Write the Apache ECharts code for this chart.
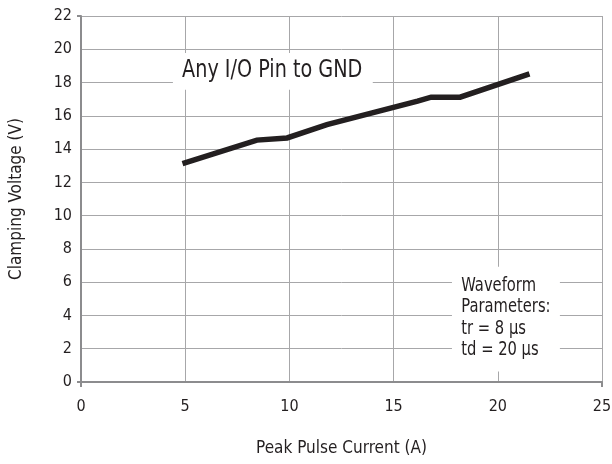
<!DOCTYPE html>
<html><head><meta charset="utf-8">
<script src="https://cdn.jsdelivr.net/npm/echarts@6/dist/echarts.min.js"></script>
<style>html,body{margin:0;padding:0;background:#fff}#c{width:612px;height:464px}</style>
</head><body><div id="c"></div><script>
// Data
const currentA = [4.87, 8.44, 9.89, 11.8, 16.15, 16.8, 18.19, 21.52];
const clampV   = [13.12, 14.54, 14.67, 15.47, 16.88, 17.12, 17.12, 18.52];
const xTicks = [0, 5, 10, 15, 20, 25];
const yTicks = [0, 2, 4, 6, 8, 10, 12, 14, 16, 18, 20, 22];
const xTitle = 'Peak Pulse Current (A)';
const yTitle = 'Clamping Voltage (V)';
const note1 = 'Any I/O Pin to GND';
const note2Lines = ['Waveform', 'Parameters:', 'tr = 8 μs', 'td = 20 μs'];

const FONT = "'DejaVu Sans Condensed', 'Liberation Sans', sans-serif";
const TXT = '#231f20';
const GRID = '#a7a7a9';
const AXIS = '#8c8c8e';

const chart = echarts.init(document.getElementById('c'), null, {renderer: 'canvas'});
const pts = currentA.map((x, i) => [x, clampV[i]]);

chart.setOption({
  animation: false,
  backgroundColor: '#fff',
  grid: {left: 81, right: 10, top: 16, bottom: 82, containLabel: false, outerBoundsMode: 'none'},
  xAxis: {
    type: 'value', min: xTicks[0], max: xTicks[xTicks.length - 1], interval: 5,
    name: xTitle, nameLocation: 'middle', nameGap: 58,
    nameTextStyle: {fontFamily: FONT, fontSize: 17, color: TXT},
    axisLine: {show: true, onZero: false, lineStyle: {color: AXIS, width: 2}},
    axisTick: {show: false},
    axisLabel: {fontFamily: FONT, fontSize: 16, color: TXT, margin: 17},
    splitLine: {show: true, lineStyle: {color: GRID, width: 1}}
  },
  yAxis: {
    type: 'value', min: yTicks[0], max: yTicks[yTicks.length - 1], interval: 2,
    name: yTitle, nameLocation: 'middle', nameGap: 56, nameRotate: 90,
    nameTextStyle: {fontFamily: FONT, fontSize: 17, color: TXT},
    axisLine: {show: true, onZero: false, lineStyle: {color: AXIS, width: 2}},
    axisTick: {show: false},
    axisLabel: {fontFamily: FONT, fontSize: 16, color: TXT, margin: 9},
    splitLine: {show: true, lineStyle: {color: GRID, width: 1}}
  },
  series: [{
    type: 'line', data: pts, showSymbol: false, symbol: 'none', z: 5,
    lineStyle: {color: TXT, width: 5.5, cap: 'butt', join: 'miter'}
  }]
});

// Annotation anchors in data units
const box1 = {x0: 4.41, x1: 14.0, y0: 19.78, y1: 17.56, tx: 4.85, ty: 18.72};
const box2 = {x0: 17.8, x1: 22.98, y0: 6.93, y1: 0.63, tx: 18.25, ty: 5.78};

function px(x, y) { return chart.convertToPixel({gridIndex: 0}, [x, y]); }
const b1a = px(box1.x0, box1.y0), b1b = px(box1.x1, box1.y1), t1 = px(box1.tx, box1.ty);
const b2a = px(box2.x0, box2.y0), b2b = px(box2.x1, box2.y1), t2 = px(box2.tx, box2.ty);
const o = px(xTicks[0], yTicks[0]), xe = px(xTicks[xTicks.length - 1], yTicks[0]), ye = px(xTicks[0], yTicks[yTicks.length - 1]);
const tickStyle = {stroke: AXIS, lineWidth: 2};

chart.setOption({
  graphic: [
    {type: 'rect', z: 3, shape: {x: b1a[0], y: b1a[1], width: b1b[0] - b1a[0], height: b1b[1] - b1a[1]}, style: {fill: '#fff'}},
    {type: 'text', z: 4, x: t1[0], y: t1[1], scaleX: 0.89, style: {text: note1, font: '24px ' + FONT, fill: TXT, textAlign: 'left', textVerticalAlign: 'middle'}},
    {type: 'rect', z: 3, shape: {x: b2a[0], y: b2a[1], width: b2b[0] - b2a[0], height: b2b[1] - b2a[1]}, style: {fill: '#fff'}},
    {type: 'text', z: 4, x: t2[0], y: t2[1] - 10.6, scaleX: 0.84, style: {text: note2Lines.join('\n'), font: '19.5px ' + FONT, lineHeight: 21.3, fill: TXT, textAlign: 'left', textVerticalAlign: 'top'}},
    {type: 'line', z: 2, shape: {x1: o[0], y1: o[1], x2: o[0], y2: o[1] + 5}, style: tickStyle},
    {type: 'line', z: 2, shape: {x1: xe[0], y1: xe[1], x2: xe[0], y2: xe[1] + 5}, style: tickStyle},
    {type: 'line', z: 2, shape: {x1: o[0], y1: o[1], x2: o[0] - 4, y2: o[1]}, style: tickStyle},
    {type: 'line', z: 2, shape: {x1: ye[0], y1: ye[1], x2: ye[0] - 4, y2: ye[1]}, style: tickStyle}
  ]
});
</script></body></html>
